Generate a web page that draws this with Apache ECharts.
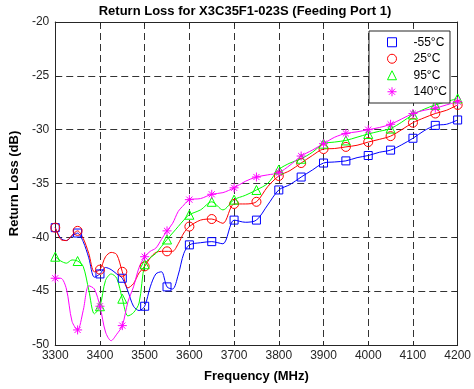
<!DOCTYPE html>
<html>
<head>
<meta charset="utf-8">
<script src="https://cdn.jsdelivr.net/npm/echarts@6/dist/echarts.min.js"></script>
<style>
  html, body { margin: 0; padding: 0; background: #fff; }
  #chart { width: 474px; height: 389px; }
</style>
</head>
<body>
<div id="chart"></div>
<script>
// Frequency grid (MHz): finer steps through the ripple region below 3600 MHz
const freq = [3300,3312.5,3325,3337.5,3350,3362.5,3375,3387.5,3400,3412.5,3425,3437.5,3450,3462.5,3475,3487.5,3500,3512.5,3525,3537.5,3550,3562.5,3575,3587.5,3600,
  3625,3650,3675,3700,3725,3750,3775,3800,3825,3850,3875,3900,3925,3950,3975,4000,4025,4050,4075,4100,4125,4150,4175,4200];

// Return loss (dB) at each temperature
const rlMinus55 = [-39.1,-40.1,-40.3,-39.9,-39.6,-40.4,-41.9,-43.7,-43.4,-42.8,-43.0,-43.4,-43.8,-45.0,-46.4,-46.8,-46.4,-44.6,-43.4,-43.2,-44.6,-44.8,-43.5,-41.5,-40.7,
  -40.5,-40.4,-40.6,-38.4,-38.6,-38.4,-37.0,-35.6,-35.1,-34.4,-33.75,-33.1,-33.0,-32.9,-32.6,-32.4,-32.1,-31.9,-31.4,-30.8,-30.1,-29.6,-29.5,-29.1];
const rl25 = [-39.1,-40.2,-40.3,-39.8,-39.4,-40.1,-41.5,-43.2,-43.0,-41.8,-41.4,-41.6,-43.2,-44.7,-44.3,-43.3,-42.7,-41.9,-41.4,-41.3,-41.3,-41.3,-40.6,-39.6,-39.0,
  -38.4,-38.3,-38.7,-36.9,-36.9,-36.7,-35.3,-34.3,-33.8,-33.1,-32.4,-31.8,-31.75,-31.6,-31.45,-31.15,-30.9,-30.6,-30.0,-29.35,-28.9,-28.5,-28.2,-27.7];
const rl95 = [-41.8,-42.2,-42.4,-42.1,-42.2,-42.7,-44.9,-47.1,-46.4,-44.0,-43.4,-43.8,-45.7,-47.3,-47.0,-46.1,-42.5,-41.9,-41.5,-40.85,-40.2,-39.6,-39.0,-38.4,-37.9,
  -37.45,-36.7,-37.45,-36.5,-36.1,-35.6,-35.0,-33.7,-33.1,-32.7,-32.1,-31.3,-31.15,-31.0,-30.7,-30.4,-30.15,-29.9,-29.3,-28.6,-28.1,-27.7,-27.4,-27.1];
const rl140 = [-43.8,-43.8,-44.8,-47.8,-48.6,-46.8,-44.5,-44.8,-46.4,-48.8,-49.6,-49.0,-48.2,-46.0,-44.6,-42.8,-41.8,-41.3,-41.0,-40.2,-39.4,-38.7,-37.6,-37.0,-36.5,
  -36.4,-36.0,-35.85,-35.4,-34.8,-34.4,-34.2,-34.0,-33.3,-32.45,-31.9,-31.3,-30.7,-30.35,-30.2,-30.0,-29.8,-29.5,-29.0,-28.5,-28.2,-28.0,-27.7,-27.4];

const seriesNames = ['-55°C', '25°C', '95°C', '140°C'];
const seriesColors = ['#0000ff', '#ff0000', '#00ff00', '#ff00ff'];
const seriesValues = [rlMinus55, rl25, rl95, rl140];
const asterisk = 'path://M5,0L5,10M0,5L10,5M1.6,1.6L8.4,8.4M1.6,8.4L8.4,1.6';
const seriesSymbols = ['rect', 'circle', 'triangle', asterisk];
const seriesSymbolSizes = [8, 9, 9, 9];

// Markers are placed every 50 MHz
const markerStep = 50;

const fontFamily = 'Liberation Sans, Arial, Helvetica, sans-serif';
const axisColor = '#262626';

function pairs(vals) { return freq.map((f, i) => [f, vals[i]]); }
function markerPairs(vals) { return freq.map((f, i) => [f, vals[i]]).filter(p => p[0] % markerStep === 0); }

function hollowStyle(k) {
  return { color: 'rgba(0,0,0,0)', borderColor: seriesColors[k], borderWidth: 1, opacity: 1 };
}

const lineSeries = seriesValues.map((vals, k) => ({
  name: 'trace ' + seriesNames[k],
  type: 'line',
  data: pairs(vals),
  smooth: 0.3,
  showSymbol: false,
  symbol: 'none',
  lineStyle: { color: seriesColors[k], width: 1 },
  z: 2,
  silent: true
}));

const markerSeries = seriesValues.map((vals, k) => ({
  name: seriesNames[k],
  type: 'scatter',
  data: markerPairs(vals),
  symbol: seriesSymbols[k],
  symbolSize: seriesSymbolSizes[k],
  itemStyle: hollowStyle(k),
  z: 3
}));

const chart = echarts.init(document.getElementById('chart'));
chart.setOption({
  animation: false,
  backgroundColor: '#ffffff',
  textStyle: { fontFamily: fontFamily },
  grid: { left: 51, top: 22, width: 409, height: 323, containLabel: false },
  graphic: [{
    type: 'text',
    x: 245, y: 11,
    style: {
      text: 'Return Loss for X3C35F1-023S (Feeding Port 1)',
      font: 'bold 13px ' + fontFamily,
      fill: '#000',
      textAlign: 'center',
      textVerticalAlign: 'middle'
    }
  }],
  legend: {
    data: seriesNames.map((n, k) => ({
      name: n,
      icon: seriesSymbols[k],
      itemStyle: hollowStyle(k)
    })),
    orient: 'vertical',
    left: 369, top: 31,
    padding: [3, 3, 3, 18],
    itemWidth: 9, itemHeight: 9,
    itemGap: 0,
    backgroundColor: '#fff',
    borderColor: axisColor,
    borderWidth: 1,
    borderRadius: 0,
    textStyle: { fontSize: 12, color: '#000', lineHeight: 16.5, padding: [0, 0, 0, 12], fontFamily: fontFamily }
  },
  xAxis: [{
    type: 'value', min: 3300, max: 4200, interval: 100,
    position: 'bottom',
    name: 'Frequency (MHz)', nameLocation: 'middle', nameGap: 25,
    nameTextStyle: { fontWeight: 'bold', fontSize: 13, color: '#000', fontFamily: fontFamily },
    axisLine: { show: true, onZero: false, lineStyle: { color: axisColor, width: 1 } },
    axisTick: { show: true, inside: true, length: 4, lineStyle: { color: axisColor } },
    axisLabel: { fontSize: 12, color: axisColor, margin: 5, fontFamily: fontFamily, formatter: v => String(v) },
    splitLine: { show: true, lineStyle: { color: '#333', type: [7, 4], width: 1 } }
  }, {
    type: 'value', min: 3300, max: 4200, interval: 100,
    position: 'top',
    axisLine: { show: true, onZero: false, lineStyle: { color: axisColor, width: 1 } },
    axisTick: { show: true, inside: true, length: 4, lineStyle: { color: axisColor } },
    axisLabel: { show: false },
    splitLine: { show: false }
  }],
  yAxis: [{
    type: 'value', min: -50, max: -20, interval: 5,
    position: 'left',
    name: 'Return Loss (dB)', nameLocation: 'middle', nameGap: 31,
    nameTextStyle: { fontWeight: 'bold', fontSize: 13, color: '#000', fontFamily: fontFamily },
    axisLine: { show: true, onZero: false, lineStyle: { color: axisColor, width: 1 } },
    axisTick: { show: true, inside: true, length: 4, lineStyle: { color: axisColor } },
    axisLabel: { fontSize: 12, color: axisColor, margin: 6, fontFamily: fontFamily },
    splitLine: { show: true, lineStyle: { color: '#333', type: [7, 4], width: 1 } }
  }, {
    type: 'value', min: -50, max: -20, interval: 5,
    position: 'right',
    axisLine: { show: true, onZero: false, lineStyle: { color: axisColor, width: 1 } },
    axisTick: { show: true, inside: true, length: 4, lineStyle: { color: axisColor } },
    axisLabel: { show: false },
    splitLine: { show: false }
  }],
  series: lineSeries.concat(markerSeries)
});
</script>
</body>
</html>
